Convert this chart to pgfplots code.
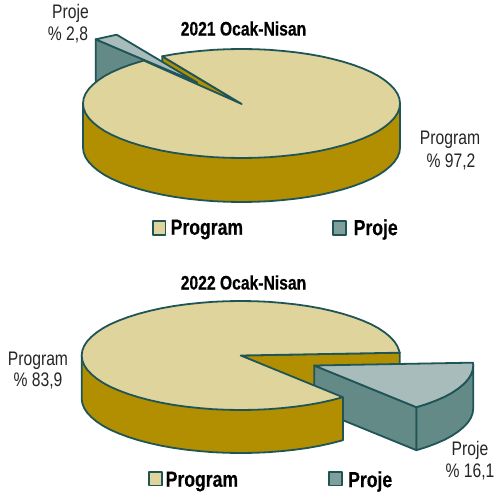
\documentclass[border=0pt]{standalone}
\usepackage{pgfplots}
\usepackage{fontspec}
\pgfplotsset{compat=1.18}
\setmainfont[FakeStretch=0.8]{Liberation Sans}
\newfontfamily\heavy[FakeStretch=0.8,BoldFeatures={FakeBold=0.3}]{Liberation Sans}
\definecolor{ln}{HTML}{1F5557}
\definecolor{tanc}{HTML}{DFD49B}
\definecolor{gold}{HTML}{B28F00}
\definecolor{teal1}{HTML}{648A88}
\definecolor{teal2}{HTML}{A8BDBB}
\definecolor{leg2}{HTML}{7F9F9D}
\tikzset{
  sl/.style={draw=ln,line width=1.8pt,line join=round,fill=#1},
  lab/.style={font=\fontsize{19.6}{19.6}\selectfont,text=black!85,inner sep=0pt,anchor=center},
  ttl/.style={font=\fontsize{19.6}{19.6}\selectfont\heavy\bfseries,text=black,inner sep=0pt,anchor=center},
  lg/.style={font=\fontsize{22}{22}\selectfont\heavy\bfseries,text=black,inner sep=0pt,anchor=west}
}
\begin{document}
\begin{tikzpicture}
\begin{axis}[
  scale only axis,width=496pt,height=497pt,
  xmin=0,xmax=496,ymin=0,ymax=497,y dir=reverse,
  hide axis,clip=false,no markers]
\addplot[draw=none,fill=white] coordinates {(0,0)(496,0)(496,497)(0,497)} -- cycle;

% ---- 2021: inner cut wall of Program
\addplot[sl=gold] coordinates {(162.2,56.3)(162.2,100)(241.5,140)(241.5,104)} -- cycle;
% ---- 2021: Proje wall and top
\addplot[sl=teal1] coordinates {(95.7,39.3)(95.7,85)(197,85)(197,82.5)} -- cycle;
\addplot[sl=teal2] coordinates {(95.7,39.3)(116.7,34.7)(197,82.5)} -- cycle;
% ---- 2021: Program wall
\addplot[sl=gold] coordinates {(83,103.5)(83,147.5)(83.6,152.3)(85.4,157)(88.4,161.6)(92.6,166.1)(97.9,170.5)(104.2,174.8)(111.7,178.8)(120.1,182.5)(129.4,186)(139.6,189.2)(150.6,192.1)(162.2,194.7)(174.5,196.9)(187.3,198.7)(200.5,200.1)(214,201.2)(227.7,201.8)(241.5,202)(255.3,201.8)(269,201.2)(282.5,200.1)(295.7,198.7)(308.5,196.9)(320.8,194.7)(332.4,192.1)(343.4,189.2)(353.6,186)(362.9,182.5)(371.3,178.8)(378.8,174.8)(385.1,170.5)(390.4,166.1)(394.6,161.6)(397.6,157)(399.4,152.3)(400,147.5)(400,103.5)} -- cycle;
% ---- 2021: Program top
\addplot[sl=tanc] coordinates {(241.7,104)(162.2,56.3)(174.5,54.1)(187.3,52.3)(200.5,50.9)(214,49.8)(227.7,49.2)(241.5,49)(255.3,49.2)(269,49.8)(282.5,50.9)(295.7,52.3)(308.5,54.1)(320.8,56.3)(332.4,58.9)(343.4,61.8)(353.6,65)(362.9,68.5)(371.3,72.2)(378.8,76.2)(385.1,80.5)(390.4,84.9)(394.6,89.4)(397.6,94)(399.4,98.7)(400,103.5)(399.4,108.3)(397.6,113)(394.6,117.6)(390.4,122.1)(385.1,126.5)(378.8,130.8)(371.3,134.8)(362.9,138.5)(353.6,142)(343.4,145.2)(332.4,148.1)(320.8,150.7)(308.5,152.9)(295.7,154.7)(282.5,156.1)(269,157.2)(255.3,157.8)(241.5,158)(227.7,157.8)(214,157.2)(200.5,156.1)(187.3,154.7)(174.5,152.9)(162.2,150.7)(150.6,148.1)(139.6,145.2)(129.4,142)(120.1,138.5)(111.7,134.8)(104.2,130.8)(97.9,126.5)(92.6,122.1)(88.4,117.6)(85.4,113)(83.6,108.3)(83,103.5)(83.6,98.7)(85.4,94)(88.4,89.4)(92.6,84.9)(97.9,80.5)(104.2,76.2)(111.7,72.2)(120.1,68.5)(129.4,65)(139.6,61.8)(143.9,60.6)} -- cycle;

% ---- 2022: inner cut wall of Program
\addplot[sl=gold] coordinates {(240.7,355.5)(399.7,352.7)(399.7,390)(320,390)} -- cycle;
% ---- 2022: Proje walls and top
\addplot[sl=teal1] coordinates {(314.2,365.5)(416.4,407.2)(416.4,450.2)(314.2,408.5)} -- cycle;
\addplot[sl=teal1] coordinates {(416.4,407.2)(426.6,404)(436,400.5)(444.5,396.8)(451.9,392.8)(458.3,388.5)(463.6,384.1)(467.8,379.6)(470.8,375)(472.6,370.3)(473.2,365.5)(473.2,408.5)(472.6,413.3)(470.8,418)(467.8,422.6)(463.6,427.1)(458.3,431.5)(451.9,435.8)(444.5,439.8)(436,443.5)(426.6,447)(416.4,450.2)} -- cycle;
\addplot[sl=teal2] coordinates {(314.2,365.5)(473,362.65)(473.2,365.5)(472.6,370.3)(470.8,375)(467.8,379.6)(463.6,384.1)(458.3,388.5)(451.9,392.8)(444.5,396.8)(436,400.5)(426.6,404)(416.4,407.2)} -- cycle;
% ---- 2022: Program wall
\addplot[sl=gold] coordinates {(81.7,355.5)(81.7,398.5)(82.3,403.3)(84.1,408)(87.1,412.6)(91.3,417.1)(96.6,421.5)(103,425.8)(110.4,429.8)(118.9,433.5)(128.3,437)(138.5,440.2)(149.5,443.1)(161.2,445.7)(173.5,447.9)(186.3,449.7)(199.6,451.1)(213.1,452.2)(226.8,452.8)(240.7,453)(254.6,452.8)(268.3,452.2)(281.8,451.1)(295.1,449.7)(307.9,447.9)(320.2,445.7)(331.9,443.1)(342.9,440.2)(342.9,397.2)} -- cycle;
% ---- 2022: Program top
\addplot[sl=tanc] coordinates {(240.7,355.5)(399.7,352.7)(399.1,350.7)(397.3,346)(394.3,341.4)(390.1,336.9)(384.8,332.5)(378.4,328.2)(371,324.2)(362.5,320.5)(353.1,317)(342.9,313.8)(331.9,310.9)(320.2,308.3)(307.9,306.1)(295.1,304.3)(281.8,302.9)(268.3,301.8)(254.6,301.2)(240.7,301)(226.8,301.2)(213.1,301.8)(199.6,302.9)(186.3,304.3)(173.5,306.1)(161.2,308.3)(149.5,310.9)(138.5,313.8)(128.3,317)(118.9,320.5)(110.4,324.2)(103,328.2)(96.6,332.5)(91.3,336.9)(87.1,341.4)(84.1,346)(82.3,350.7)(81.7,355.5)(82.3,360.3)(84.1,365)(87.1,369.6)(91.3,374.1)(96.6,378.5)(103,382.8)(110.4,386.8)(118.9,390.5)(128.3,394)(138.5,397.2)(149.5,400.1)(161.2,402.7)(173.5,404.9)(186.3,406.7)(199.6,408.1)(213.1,409.2)(226.8,409.8)(240.7,410)(254.6,409.8)(268.3,409.2)(281.8,408.1)(295.1,406.7)(307.9,404.9)(320.2,402.7)(331.9,400.1)(342.9,397.2)} -- cycle;

% ---- legends
\addplot[sl=tanc] coordinates {(152.8,221.3)(165.5,221.3)(165.5,235)(152.8,235)} -- cycle;
\addplot[sl=leg2] coordinates {(333,221.3)(346,221.3)(346,235)(333,235)} -- cycle;
\addplot[sl=tanc] coordinates {(149,472.3)(162,472.3)(162,485.5)(149,485.5)} -- cycle;
\addplot[sl=leg2] coordinates {(329,472.3)(342,472.3)(342,485.5)(329,485.5)} -- cycle;

\node[lg] at (axis cs:170.5,229.5) {Program};
\node[lg] at (axis cs:353.5,229.5) {Proje};
\node[lg] at (axis cs:165.5,481.5) {Program};
\node[lg] at (axis cs:348,481.5) {Proje};

\node[ttl] at (axis cs:243.5,28.5) {2021 Ocak-Nisan};
\node[ttl] at (axis cs:243.5,282.5) {2022 Ocak-Nisan};

\node[lab] at (axis cs:70.5,13) {Proje};
\node[lab] at (axis cs:68,35) {\% 2,8};
\node[lab] at (axis cs:450,139.5) {Program};
\node[lab] at (axis cs:451,162) {\% 97,2};
\node[lab] at (axis cs:38,360.5) {Program};
\node[lab] at (axis cs:38,381) {\% 83,9};
\node[lab] at (axis cs:470,450) {Proje};
\node[lab] at (axis cs:470,472) {\% 16,1};
\end{axis}
\end{tikzpicture}
\end{document}
